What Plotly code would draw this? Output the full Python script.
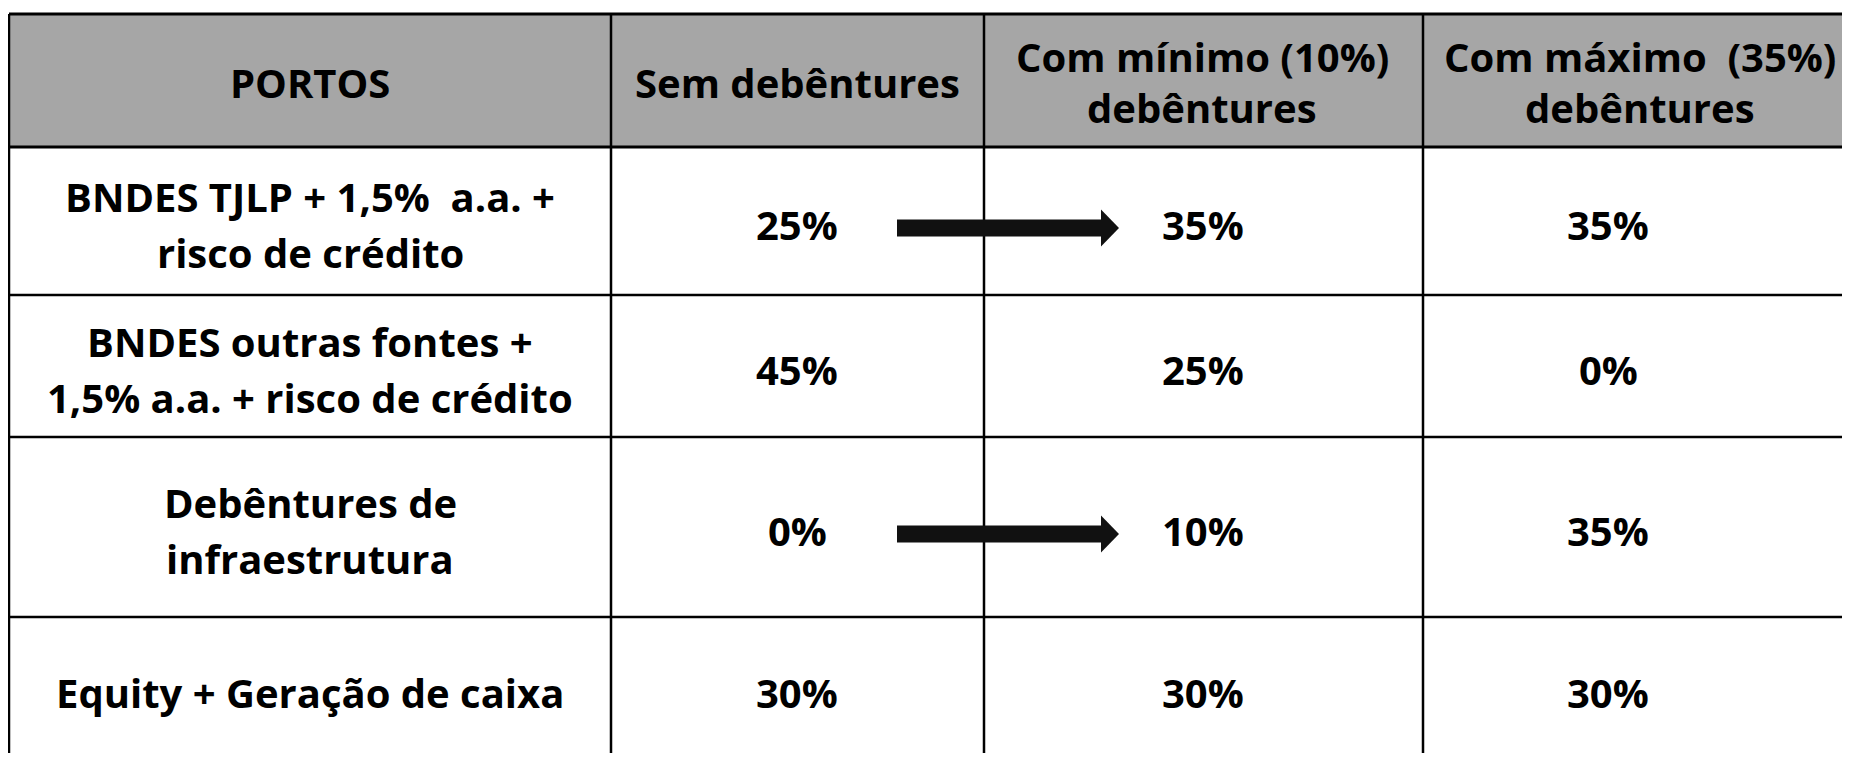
import plotly.graph_objects as go

# ---- data ----
header = ["PORTOS", "Sem debêntures", "Com mínimo (10%)|debêntures", "Com máximo  (35%)|debêntures"]
row_labels = [
    "BNDES TJLP + 1,5%  a.a. +|risco de crédito",
    "BNDES outras fontes +|1,5% a.a. + risco de crédito",
    "Debêntures de|infraestrutura",
    "Equity + Geração de caixa",
]
sem_debentures = [25, 45, 0, 30]
com_minimo = [35, 25, 10, 30]
com_maximo = [35, 0, 35, 30]
arrow_rows = [0, 2]  # rows where allocation shifts from "Sem" to "Com mínimo"

# ---- layout (pixel geometry, page coordinates) ----
W, H = 1850, 761
PAGE_MARGIN = 8  # default body margin of the html page
col_edges = [9, 611, 984, 1423, 1880]
row_edges = [14, 147, 295, 437, 617, 780]
header_centers = [310, 797, 1202, 1640]
body_centers = [310, 797, 1203, 1608]
row_centers = [82, 224, 369, 530, 692]
header_gap = 51
body_gap = 56
FONT = "Open Sans"
FS = 40
header_fill = "#A6A6A6"
line_col = "#000000"

fig = go.Figure()
fig.add_trace(go.Scatter(x=[PAGE_MARGIN, W], y=[PAGE_MARGIN, H], mode="markers", marker=dict(opacity=0),
                         hoverinfo="skip", showlegend=False))

shapes = []
shapes.append(dict(type="rect", xref="x", yref="y", x0=col_edges[0], x1=col_edges[-1], y0=row_edges[0], y1=row_edges[1],
                   fillcolor=header_fill, line=dict(width=0), layer="below"))
for i, y in enumerate(row_edges[:-1]):
    w = 3 if i <= 1 else 2.5
    shapes.append(dict(type="line", xref="x", yref="y", x0=col_edges[0], x1=col_edges[-1], y0=y, y1=y,
                       line=dict(color=line_col, width=w)))
for x in col_edges[:-1]:
    shapes.append(dict(type="line", xref="x", yref="y", x0=x, x1=x, y0=row_edges[0], y1=row_edges[-1],
                       line=dict(color=line_col, width=2.5)))

shaft_x0, head_x0, tip_x = 897, 1101, 1119
shaft_half, head_half = 8.5, 18.5
for r in arrow_rows:
    yc = row_centers[r + 1] + 4
    shapes.append(dict(type="rect", xref="x", yref="y", x0=shaft_x0, x1=head_x0 + 1, y0=yc - shaft_half, y1=yc + shaft_half,
                       fillcolor="#111111", line=dict(width=0)))
    shapes.append(dict(type="path", xref="x", yref="y",
                       path=f"M {head_x0},{yc - head_half} L {tip_x},{yc} L {head_x0},{yc + head_half} Z",
                       fillcolor="#111111", line=dict(width=0)))

annotations = []

def add_text(x, yc, text, gap):
    parts = text.split("|")
    n = len(parts)
    for k, p in enumerate(parts):
        y = yc + (k - (n - 1) / 2) * gap
        annotations.append(dict(x=x, y=y, xref="x", yref="y", text=f"<b>{p}</b>", showarrow=False,
                                xanchor="center", yanchor="middle",
                                font=dict(family=FONT, size=FS, color="#000000")))

for j, h in enumerate(header):
    add_text(header_centers[j], row_centers[0], h, header_gap)

for i, lab in enumerate(row_labels):
    yc = row_centers[i + 1]
    add_text(body_centers[0], yc, lab, body_gap)
    add_text(body_centers[1], yc, f"{sem_debentures[i]}%", body_gap)
    add_text(body_centers[2], yc, f"{com_minimo[i]}%", body_gap)
    add_text(body_centers[3], yc, f"{com_maximo[i]}%", body_gap)

plot_w = W - PAGE_MARGIN
plot_h = H - 2 * PAGE_MARGIN
fig.update_layout(
    width=plot_w, height=plot_h,
    margin=dict(l=0, r=0, t=0, b=0),
    paper_bgcolor="white", plot_bgcolor="white",
    xaxis=dict(range=[PAGE_MARGIN, PAGE_MARGIN + plot_w], visible=False, fixedrange=True),
    yaxis=dict(range=[PAGE_MARGIN + plot_h, PAGE_MARGIN], visible=False, fixedrange=True),
    shapes=shapes, annotations=annotations,
    showlegend=False,
)
fig.write_html("out.html", config={"displayModeBar": False},
               default_width=f"{plot_w}px", default_height=f"{plot_h}px")
